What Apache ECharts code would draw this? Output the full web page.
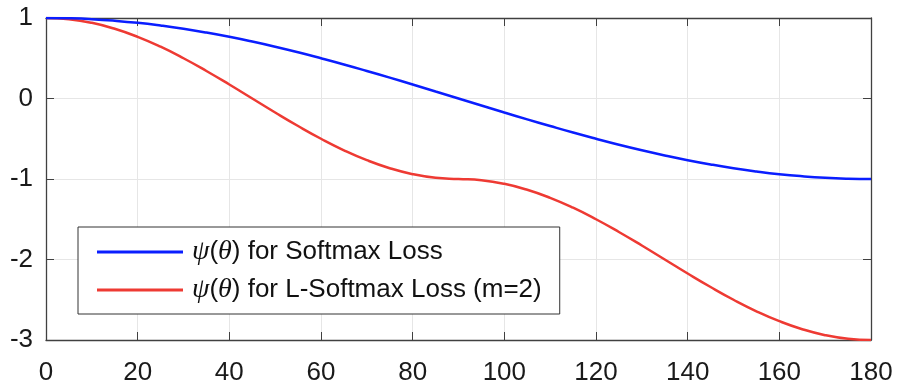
<!DOCTYPE html>
<html>
<head>
<meta charset="utf-8">
<script src="https://cdn.jsdelivr.net/npm/echarts@6/dist/echarts.min.js"></script>
<style>
  html, body { margin: 0; padding: 0; background: #fff; }
  #chart { width: 897px; height: 386px; }
</style>
</head>
<body>
<div id="chart"></div>
<script>
// angles in degrees, read every 5 deg
const theta = [0, 5, 10, 15, 20, 25, 30, 35, 40, 45, 50, 55, 60, 65, 70, 75, 80, 85, 90,
  95, 100, 105, 110, 115, 120, 125, 130, 135, 140, 145, 150, 155, 160, 165, 170, 175, 180]

const softmax = [1.000, 0.996, 0.985, 0.966, 0.940, 0.906, 0.866, 0.819, 0.766, 0.707, 0.643,
  0.574, 0.500, 0.423, 0.342, 0.259, 0.174, 0.087, 0.000, -0.087, -0.174, -0.259, -0.342,
  -0.423, -0.500, -0.574, -0.643, -0.707, -0.766, -0.819, -0.866, -0.906, -0.940, -0.966,
  -0.985, -0.996, -1.000]

const lSoftmax = [1.000, 0.985, 0.940, 0.866, 0.766, 0.643, 0.500, 0.342, 0.174, 0.000, -0.174,
  -0.342, -0.500, -0.643, -0.766, -0.866, -0.940, -0.985, -1.000, -1.015, -1.060, -1.134,
  -1.234, -1.357, -1.500, -1.658, -1.826, -2.000, -2.174, -2.342, -2.500, -2.643, -2.766,
  -2.866, -2.940, -2.985, -3.000]

const seriesNames = ['ψ(θ) for Softmax Loss', 'ψ(θ) for L-Softmax Loss (m=2)']

const axisColor = '#404040'
const gridColor = '#e6e6e6'
const labelFont = 'Liberation Sans'

const chart = echarts.init(document.getElementById('chart'))

const tickCfg = { show: true, inside: true, length: 8, lineStyle: { color: axisColor, width: 1 } }

const option = {
  animation: false,
  grid: { left: 46, right: 26, top: 18, bottom: 45 },
  xAxis: [
    {
      type: 'value', min: 0, max: 180, interval: 20, position: 'bottom',
      axisLine: { show: true, onZero: false, lineStyle: { color: axisColor, width: 1.3 } },
      axisTick: tickCfg,
      axisLabel: { color: '#1a1a1a', fontSize: 26, fontFamily: labelFont, margin: 20 },
      splitLine: { show: true, lineStyle: { color: gridColor, width: 1 } }
    },
    {
      type: 'value', min: 0, max: 180, interval: 20, position: 'top',
      axisLine: { show: true, onZero: false, lineStyle: { color: axisColor, width: 1.3 } },
      axisTick: tickCfg,
      axisLabel: { show: false },
      splitLine: { show: false }
    }
  ],
  yAxis: [
    {
      type: 'value', min: -3, max: 1, interval: 1, position: 'left',
      axisLine: { show: true, onZero: false, lineStyle: { color: axisColor, width: 1.3 } },
      axisTick: tickCfg,
      axisLabel: { color: '#1a1a1a', fontSize: 26, fontFamily: labelFont, margin: 13 },
      splitLine: { show: true, lineStyle: { color: gridColor, width: 1 } }
    },
    {
      type: 'value', min: -3, max: 1, interval: 1, position: 'right',
      axisLine: { show: true, onZero: false, lineStyle: { color: axisColor, width: 1.3 } },
      axisTick: tickCfg,
      axisLabel: { show: false },
      splitLine: { show: false }
    }
  ],
  legend: {
    left: 78, top: 227,
    orient: 'vertical',
    backgroundColor: '#fff',
    borderColor: '#333',
    borderWidth: 1,
    borderRadius: 0,
    padding: [11, 18, 10, 19],
    icon: 'rect',
    itemWidth: 86,
    itemHeight: 3,
    itemGap: 10,
    textStyle: {
      fontFamily: labelFont, fontSize: 26, color: '#111', lineHeight: 26,
      padding: [0, 0, 0, 4],
      rich: {
        g: { fontFamily: 'Liberation Serif', fontStyle: 'italic', fontSize: 28, color: '#111', lineHeight: 26 },
        t: { fontFamily: labelFont, fontSize: 26, color: '#111', lineHeight: 26 }
      }
    },
    formatter: name => {
      const rest = name.replace('ψ(θ)', '')
      return '{g|ψ}{t|(}{g|θ}{t|)}{t|' + rest + '}'
    },
    data: seriesNames
  },
  series: [
    {
      name: seriesNames[0], type: 'line', smooth: true, symbol: 'none',
      lineStyle: { color: '#0a1eff', width: 2.5 },
      itemStyle: { color: '#0a1eff' },
      data: theta.map((t, i) => [t, softmax[i]]),
      z: 3
    },
    {
      name: seriesNames[1], type: 'line', smooth: true, symbol: 'none',
      lineStyle: { color: '#ee3a33', width: 2.5 },
      itemStyle: { color: '#ee3a33' },
      data: theta.map((t, i) => [t, lSoftmax[i]]),
      z: 2
    }
  ]
}

chart.setOption(option)
</script>
</body>
</html>
